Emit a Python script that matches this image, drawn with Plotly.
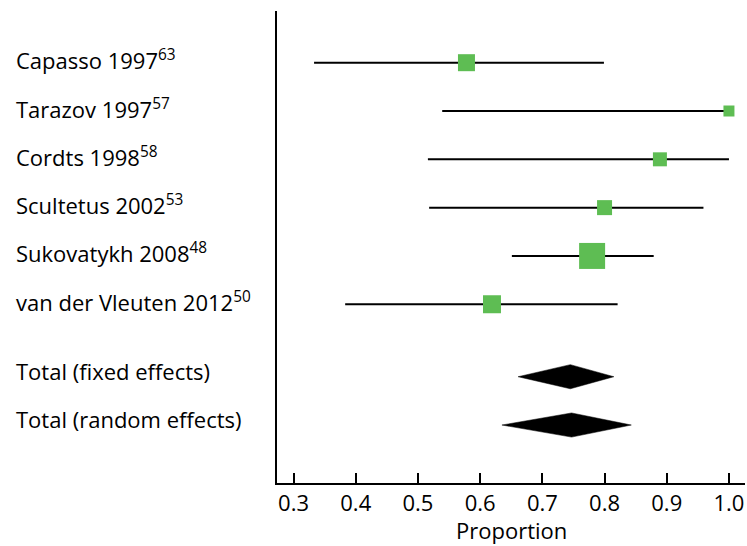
import plotly.graph_objects as go

# Data
study_names = ["Capasso 1997", "Tarazov 1997", "Cordts 1998", "Scultetus 2002",
               "Sukovatykh 2008", "van der Vleuten 2012"]
study_refs = ["63", "57", "58", "53", "48", "50"]
study_est = [0.578, 1.0, 0.889, 0.800, 0.780, 0.619]
study_lo = [0.333, 0.539, 0.516, 0.518, 0.651, 0.383]
study_hi = [0.799, 1.0, 1.0, 0.959, 0.879, 0.821]
study_weight_px = [17, 11, 14, 15, 26, 18]

total_names = ["Total (fixed effects)", "Total (random effects)"]
total_est = [0.745, 0.747]
total_lo = [0.661, 0.635]
total_hi = [0.815, 0.843]

x_ticks = [0.3, 0.4, 0.5, 0.6, 0.7, 0.8, 0.9, 1.0]
x_title = "Proportion"

GREEN = "#5EBD53"
FONT = "Open Sans, Noto Sans, sans-serif"
FS = 22

study_y = list(range(len(study_names)))
total_y = [len(study_names) + 0.5 + i for i in range(len(total_names))]

fig = go.Figure()

# CI lines
lx, ly = [], []
for lo, hi, y in zip(study_lo, study_hi, study_y):
    lx += [lo, hi, None]
    ly += [y, y, None]
fig.add_trace(go.Scatter(x=lx, y=ly, mode="lines",
                         line=dict(color="black", width=2), hoverinfo="skip"))

# Squares
fig.add_trace(go.Scatter(x=study_est, y=study_y, mode="markers", opacity=1,
                         marker=dict(symbol="square", color=GREEN, opacity=1,
                                     size=study_weight_px, line=dict(width=0))))

# Diamonds
half_h = 0.25
for lo, est, hi, y in zip(total_lo, total_est, total_hi, total_y):
    fig.add_trace(go.Scatter(x=[lo, est, hi, est, lo], y=[y, y - half_h, y, y + half_h, y],
                             mode="lines", fill="toself", fillcolor="black",
                             line=dict(color="black", width=0.5), hoverinfo="skip"))

# Row labels
annotations = []
LABEL_X = (14 - 277) / (747 - 277 - 2)
for name, ref, y in zip(study_names, study_refs, study_y):
    annotations.append(dict(x=LABEL_X, xref="paper", y=y, yref="y", yshift=3,
                            text=f"{name}<sup>{ref}</sup>", showarrow=False,
                            xanchor="left", yanchor="middle",
                            font=dict(family=FONT, size=FS, color="black")))
for name, y in zip(total_names, total_y):
    annotations.append(dict(x=LABEL_X, xref="paper", y=y, yref="y", yshift=6,
                            text=name, showarrow=False,
                            xanchor="left", yanchor="middle",
                            font=dict(family=FONT, size=FS, color="black")))
# x-axis title
annotations.append(dict(x=0.5, xref="paper", y=-0.10, yref="paper",
                        text=x_title, showarrow=False,
                        xanchor="center", yanchor="middle",
                        font=dict(family=FONT, size=FS, color="black")))

fig.update_layout(
    width=747, height=546,
    margin=dict(l=277, r=2, t=11, b=63, autoexpand=False),
    paper_bgcolor="white", plot_bgcolor="white",
    showlegend=False,
    annotations=annotations,
    font=dict(family=FONT, size=FS, color="black"),
    xaxis=dict(range=[0.2734, 1.0258], tickvals=x_ticks,
               ticktext=[f"{v:.1f}" for v in x_ticks],
               showline=True, linecolor="black", linewidth=2,
               ticks="inside", ticklen=10, tickwidth=2, tickcolor="black",
               showgrid=False, zeroline=False, automargin=False,
               tickfont=dict(family=FONT, size=FS, color="black")),
    yaxis=dict(range=[8.70, -1.07], showline=True, linecolor="black", linewidth=2,
               showticklabels=False, ticks="", showgrid=False, zeroline=False,
               automargin=False),
)

fig.write_html("out.html", config={"displayModeBar": False},
               post_script="document.body.style.margin='0';document.body.style.overflow='hidden';")
